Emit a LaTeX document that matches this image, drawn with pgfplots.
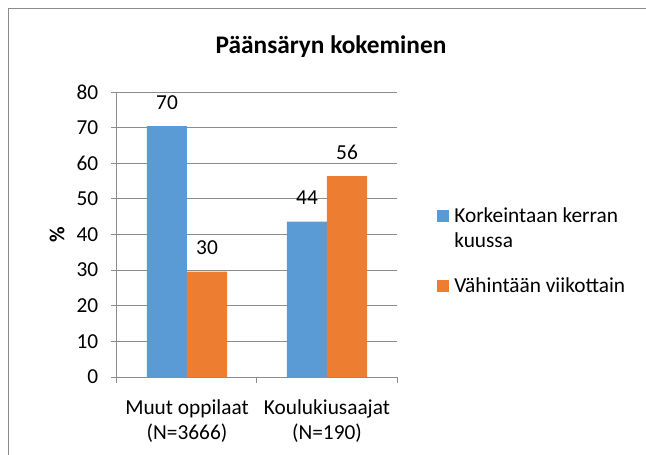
\documentclass[border=0pt]{standalone}
\usepackage{fontspec}
\setmainfont{Carlito}
\usepackage{pgfplots}
\pgfplotsset{compat=1.18}
\definecolor{cblue}{HTML}{5B9BD5}
\definecolor{corange}{HTML}{ED7D31}
\definecolor{gridc}{HTML}{8C8C8C}
\newcommand{\fs}{\fontsize{16}{18.75}\selectfont}
\begin{document}
\begin{tikzpicture}
\path[use as bounding box] (0,0) rectangle (484.5pt,-340.5pt);
\draw[gridc, line width=0.75pt] (6pt,-341pt) -- (6pt,-6pt) -- (486pt,-6pt);
\node[font=\fontsize{19}{22}\selectfont\bfseries] at (248.25pt,-35.25pt) {Päänsäryn kokeminen};
\begin{axis}[
  at={(87.75pt,-282.75pt)}, anchor=south west,
  scale only axis, width=210pt, height=213.75pt,
  ybar=0pt, bar width=30pt,
  xmin=-0.5, xmax=1.5, ymin=0, ymax=80,
  ytick={0,10,...,80},
  xtick={0,1},
  xticklabels={{Muut oppilaat\\(N=3666)},{Koulukiusaajat\\(N=190)}},
  minor xtick={-0.5,0.5,1.5},
  major x tick style={draw=none},
  tick align=outside, major tick length=4.5pt, minor tick length=4.5pt,
  axis x line*=bottom, axis y line*=left,
  axis line style={gridc, line width=0.75pt},
  tick style={gridc, line width=0.75pt},
  ymajorgrids, grid style={gridc, line width=0.75pt},
  /pgf/number format/assume math mode=true,
  ticklabel style={font=\fs, text=black},
  yticklabel style={xshift=-6pt},
  xticklabel style={align=center, yshift=-9pt},
  ylabel={\textbf{\%}},
  ylabel style={at={(axis description cs:-0.214,0.5)}, anchor=center, font=\fs},
  nodes near coords, point meta=explicit symbolic,
  nodes near coords style={anchor=center, yshift=18pt, font=\fs, text=black},
  legend style={draw=none, fill=none, at={(1.143,0.6035)}, anchor=north west,
    font=\fs, cells={anchor=base west}, row sep=40pt, column sep=3.75pt,
    inner sep=0pt, nodes={inner sep=0pt}},
  legend image code/.code={\fill[#1,draw=none] (0pt,0.5pt) rectangle (9pt,9.5pt);},
]
\addplot[fill=cblue, draw=none] coordinates {(0,70.4) [70] (1,43.6) [44]};
\addplot[fill=corange, draw=none] coordinates {(0,29.6) [30] (1,56.4) [56]};
\addlegendentry{\begin{tabular}[t]{@{}l@{}}Korkeintaan kerran\\kuussa\end{tabular}}
\addlegendentry{Vähintään viikottain}
\end{axis}
\end{tikzpicture}
\end{document}
